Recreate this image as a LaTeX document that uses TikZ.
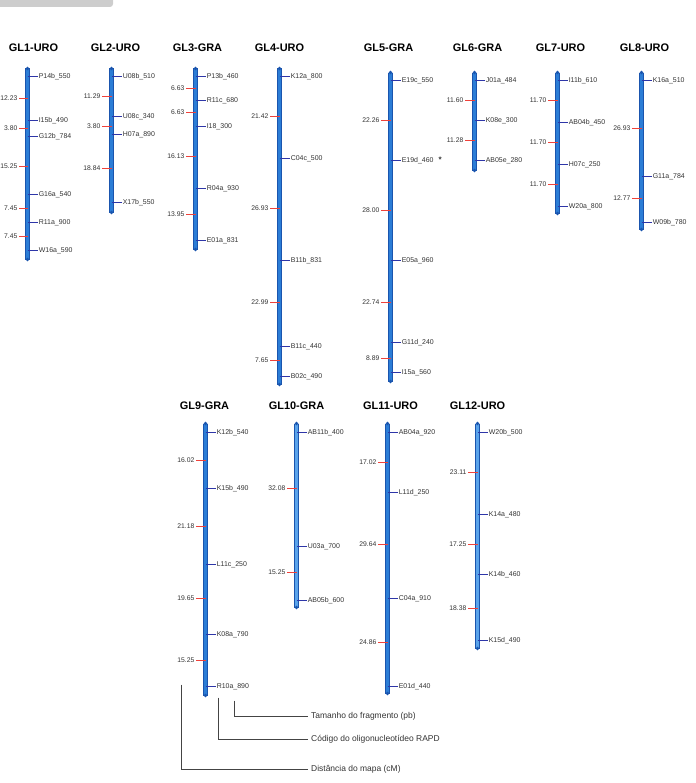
\documentclass[tikz,border=0pt]{standalone}
\usepackage{fontspec}
\setmainfont{Liberation Sans}
\usetikzlibrary{calc, positioning}
\definecolor{barBlue}{HTML}{2C7DD6}
\definecolor{barLight}{HTML}{5AA3EA}
\definecolor{barEdge}{HTML}{1A55AE}
\definecolor{markNavy}{HTML}{2E36A8}
\definecolor{distRed}{HTML}{F0413A}
\definecolor{inkGrey}{HTML}{333333}
\definecolor{legGrey}{HTML}{444444}
\definecolor{tabGrey}{HTML}{CDCDCD}
\tikzset{
  title/.style  = {font=\fontsize{11}{12}\selectfont\bfseries, text=black, inner sep=0pt},
  bar/.style    = {draw=barEdge, line width=0.9bp, double=barBlue, double distance=3.2bp},
  barlt/.style  = {bar, double=barLight},
  endpt/.style  = {fill=barEdge, draw=none},
  mk/.style     = {draw=markNavy, line width=1.4bp},
  dst/.style    = {draw=distRed, line width=1.4bp},
  mklbl/.style  = {anchor=west, font=\fontsize{7}{8}\selectfont, text=inkGrey, inner sep=0.6bp},
  dstlbl/.style = {anchor=east, font=\fontsize{6.8}{8}\selectfont, text=inkGrey, inner sep=0.4bp},
  leg/.style    = {draw=legGrey, line width=0.9bp},
  legtxt/.style = {anchor=west, font=\fontsize{8.5}{10}\selectfont, text=inkGrey, inner sep=3.5bp}
}

\begin{document}
\begin{tikzpicture}[x=1bp, y=-1bp]
  \useasboundingbox (0,0) rectangle (696,783);
  \fill[tabGrey, rounded corners=3bp] (-6,-6) rectangle (113,7);
  \begin{scope}[yshift=-0.5bp, xshift=0.5bp]

  % GL1
  \node[title] (gl1) at (33,47) {GL1-URO};
  \draw[bar] (27,68) coordinate (gl1top) -- (27,259) coordinate (gl1bot);
  \foreach \y/\t in {76/P14b\_550, 120/I15b\_490, 136/G12b\_784, 194/G16a\_540, 222/R11a\_900, 250/W16a\_590}
    \draw[mk] (27,\y) -- ++(10,0) node[mklbl] (gl1m\y) {\t};
  \foreach \y/\t in {98/12.23, 128/3.80, 166/15.25, 208/7.45, 236/7.45}
    \draw[dst] (27,\y) -- ++(-9,0) node[dstlbl] (gl1d\y) {\t};

  % GL2
  \node[title] (gl2) at (115,47) {GL2-URO};
  \draw[bar] (111,68) coordinate (gl2top) -- (111,212) coordinate (gl2bot);
  \foreach \y/\t in {76/U08b\_510, 116/U08c\_340, 134/H07a\_890, 202/X17b\_550}
    \draw[mk] (111,\y) -- ++(10,0) node[mklbl] (gl2m\y) {\t};
  \foreach \y/\t in {96/11.29, 126/3.80, 168/18.84}
    \draw[dst] (111,\y) -- ++(-10,0) node[dstlbl] (gl2d\y) {\t};

  % GL3
  \node[title] (gl3) at (197,47) {GL3-GRA};
  \draw[bar] (195,68) coordinate (gl3top) -- (195,249) coordinate (gl3bot);
  \foreach \y/\t in {76/P13b\_460, 100/R11c\_680, 126/I18\_300, 188/R04a\_930, 240/E01a\_831}
    \draw[mk] (195,\y) -- ++(10,0) node[mklbl] (gl3m\y) {\t};
  \foreach \y/\t in {88/6.63, 112/6.63, 156/16.13, 214/13.95}
    \draw[dst] (195,\y) -- ++(-10,0) node[dstlbl] (gl3d\y) {\t};

  % GL4
  \node[title] (gl4) at (279,47) {GL4-URO};
  \draw[bar] (279,68) coordinate (gl4top) -- (279,384) coordinate (gl4bot);
  \foreach \y/\t in {76/K12a\_800, 158/C04c\_500, 260/B11b\_831, 346/B11c\_440, 376/B02c\_490}
    \draw[mk] (279,\y) -- ++(10,0) node[mklbl] (gl4m\y) {\t};
  \foreach \y/\t in {116/21.42, 208/26.93, 302/22.99, 360/7.65}
    \draw[dst] (279,\y) -- ++(-10,0) node[dstlbl] (gl4d\y) {\t};

  % GL5
  \node[title] (gl5) at (388,47) {GL5-GRA};
  \draw[bar] (390,72) coordinate (gl5top) -- (390,381) coordinate (gl5bot);
  \foreach \y/\t in {80/E19c\_550, 160/E19d\_460, 260/E05a\_960, 342/G11d\_240, 372/I15a\_560}
    \draw[mk] (390,\y) -- ++(10,0) node[mklbl] (gl5m\y) {\t};
  \foreach \y/\t in {120/22.26, 210/28.00, 302/22.74, 358/8.89}
    \draw[dst] (390,\y) -- ++(-10,0) node[dstlbl] (gl5d\y) {\t};
  \node[mklbl, right=3bp of gl5m160, font=\fontsize{8}{8}\selectfont\bfseries, yshift=1bp] (gl5star) {*};

  % GL6
  \node[title] (gl6) at (477,47) {GL6-GRA};
  \draw[bar] (474,72) coordinate (gl6top) -- (474,170) coordinate (gl6bot);
  \foreach \y/\t in {80/J01a\_484, 120/K08e\_300, 160/AB05e\_280}
    \draw[mk] (474,\y) -- ++(10,0) node[mklbl] (gl6m\y) {\t};
  \foreach \y/\t in {100/11.60, 140/11.28}
    \draw[dst] (474,\y) -- ++(-10,0) node[dstlbl] (gl6d\y) {\t};

  % GL7
  \node[title] (gl7) at (560,47) {GL7-URO};
  \draw[bar] (557,72) coordinate (gl7top) -- (557,213) coordinate (gl7bot);
  \foreach \y/\t in {80/I11b\_610, 122/AB04b\_450, 164/H07c\_250, 206/W20a\_800}
    \draw[mk] (557,\y) -- ++(10,0) node[mklbl] (gl7m\y) {\t};
  \foreach \y/\t in {100/11.70, 142/11.70, 184/11.70}
    \draw[dst] (557,\y) -- ++(-10,0) node[dstlbl] (gl7d\y) {\t};

  % GL8
  \node[title] (gl8) at (644,47) {GL8-URO};
  \draw[bar] (641,72) coordinate (gl8top) -- (641,229) coordinate (gl8bot);
  \foreach \y/\t in {80/K16a\_510, 176/G11a\_784, 222/W09b\_780}
    \draw[mk] (641,\y) -- ++(10,0) node[mklbl] (gl8m\y) {\t};
  \foreach \y/\t in {128/26.93, 198/12.77}
    \draw[dst] (641,\y) -- ++(-10,0) node[dstlbl] (gl8d\y) {\t};

  % GL9
  \node[title] (gl9) at (204,405) {GL9-GRA};
  \draw[bar] (205,423) coordinate (gl9top) -- (205,695) coordinate (gl9bot);
  \foreach \y/\t in {432/K12b\_540, 488/K15b\_490, 564/L11c\_250, 634/K08a\_790, 686/R10a\_890}
    \draw[mk] (205,\y) -- ++(10,0) node[mklbl] (gl9m\y) {\t};
  \foreach \y/\t in {460/16.02, 526/21.18, 598/19.65, 660/15.25}
    \draw[dst] (205,\y) -- ++(-10,0) node[dstlbl] (gl9d\y) {\t};

  % GL10
  \node[title] (gl10) at (296,405) {GL10-GRA};
  \draw[barlt] (296,423) coordinate (gl10top) -- (296,607) coordinate (gl10bot);
  \foreach \y/\t in {432/AB11b\_400, 546/U03a\_700, 600/AB05b\_600}
    \draw[mk] (296,\y) -- ++(10,0) node[mklbl] (gl10m\y) {\t};
  \foreach \y/\t in {488/32.08, 572/15.25}
    \draw[dst] (296,\y) -- ++(-10,0) node[dstlbl] (gl10d\y) {\t};

  % GL11
  \node[title] (gl11) at (390,405) {GL11-URO};
  \draw[bar] (387,423) coordinate (gl11top) -- (387,693) coordinate (gl11bot);
  \foreach \y/\t in {432/AB04a\_920, 492/L11d\_250, 598/C04a\_910, 686/E01d\_440}
    \draw[mk] (387,\y) -- ++(10,0) node[mklbl] (gl11m\y) {\t};
  \foreach \y/\t in {462/17.02, 544/29.64, 642/24.86}
    \draw[dst] (387,\y) -- ++(-10,0) node[dstlbl] (gl11d\y) {\t};

  % GL12
  \node[title] (gl12) at (477,405) {GL12-URO};
  \draw[barlt] (477,423) coordinate (gl12top) -- (477,648) coordinate (gl12bot);
  \foreach \y/\t in {432/W20b\_500, 514/K14a\_480, 574/K14b\_460, 640/K15d\_490}
    \draw[mk] (477,\y) -- ++(10,0) node[mklbl] (gl12m\y) {\t};
  \foreach \y/\t in {472/23.11, 544/17.25, 608/18.38}
    \draw[dst] (477,\y) -- ++(-10,0) node[dstlbl] (gl12d\y) {\t};

  % bar end dots
  \foreach \g in {1,...,12}
    \fill[endpt] (gl\g top) circle (1.8bp) (gl\g bot) circle (1.8bp);

  % legend
  \coordinate (fragPt) at (234,700);
  \coordinate (codePt) at (218,697);
  \coordinate (distPt) at (181,684);
  \node[legtxt] (fragTxt) at (307,716) {Tamanho do fragmento (pb)};
  \node[legtxt] (codeTxt) at (307,739) {Código do oligonucleotídeo RAPD};
  \node[legtxt] (distTxt) at (307,769) {Distância do mapa (cM)};
  \draw[leg] (fragPt) |- (fragTxt.west);
  \draw[leg] (codePt) |- (codeTxt.west);
  \draw[leg] (distPt) |- (distTxt.west);
  \end{scope}
\end{tikzpicture}
\end{document}
